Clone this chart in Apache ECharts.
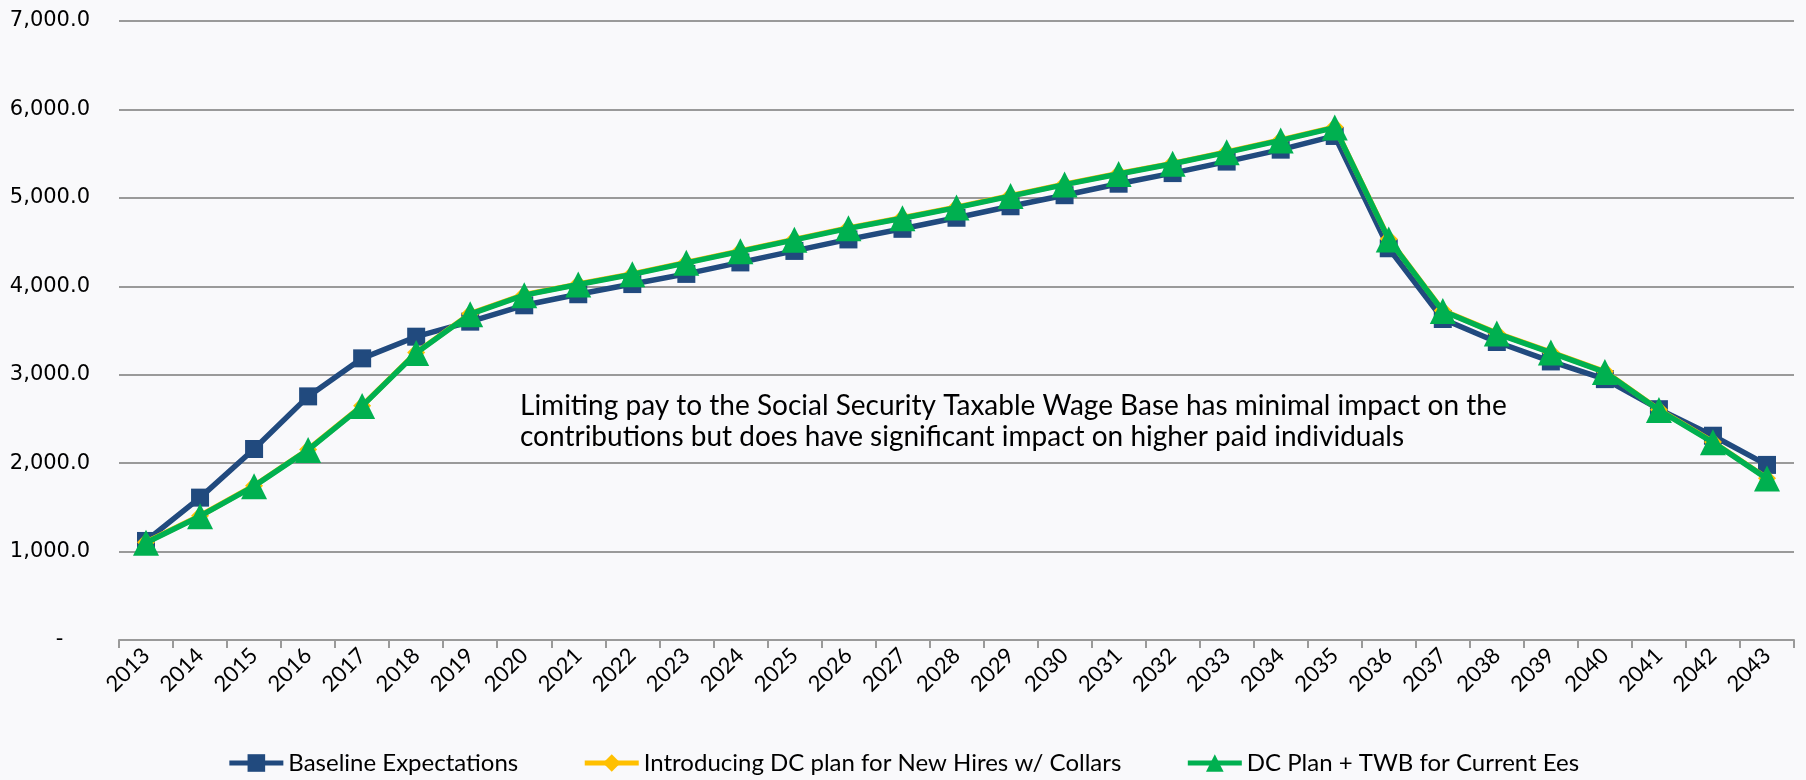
<!DOCTYPE html>
<html>
<head>
<meta charset="utf-8">
<script src="https://cdn.jsdelivr.net/npm/echarts@6/dist/echarts.min.js"></script>
<style>
  html, body { margin: 0; padding: 0; background: #f9f9fb; }
  #chart { width: 1806px; height: 780px; }
</style>
</head>
<body>
<div id="chart"></div>
<script>
const years = [
  "2013", "2014", "2015", "2016", "2017", "2018", "2019", "2020", "2021", "2022",
  "2023", "2024", "2025", "2026", "2027", "2028", "2029", "2030", "2031", "2032",
  "2033", "2034", "2035", "2036", "2037", "2038", "2039", "2040", "2041", "2042", "2043"
];
const seriesNames = [
  "Baseline Expectations",
  "Introducing DC plan for New Hires w/ Collars",
  "DC Plan + TWB for Current Ees"
];
const baseline = [
  1120, 1610, 2160, 2755, 3185, 3430, 3600, 3785, 3910, 4025,
  4140, 4270, 4400, 4530, 4650, 4775, 4905, 5030, 5160, 5280,
  5410, 5545, 5700, 4430, 3630, 3370, 3150, 2950, 2610, 2310, 1980
];
const dcNewHires = [
  1105, 1405, 1745, 2155, 2650, 3250, 3690, 3905, 4025, 4140,
  4270, 4400, 4530, 4660, 4775, 4895, 5025, 5155, 5275, 5390,
  5520, 5655, 5800, 4535, 3725, 3470, 3255, 3035, 2605, 2240, 1830
];
const dcPlusTwb = [
  1100, 1400, 1740, 2150, 2645, 3245, 3685, 3900, 4020, 4135,
  4265, 4395, 4525, 4655, 4770, 4890, 5020, 5150, 5270, 5385,
  5515, 5650, 5795, 4530, 3720, 3465, 3250, 3030, 2600, 2235, 1825
];
const note = "Limiting pay to the Social Security Taxable Wage Base has minimal impact on the\ncontributions but does have significant impact on higher paid individuals";

const colors = ["#214a7e", "#ffc000", "#00b050"];
const symbols = ["rect", "diamond", "triangle"];
const symbolSizes = [18, 18, 26];
const values = [baseline, dcNewHires, dcPlusTwb];

const chart = echarts.init(document.getElementById("chart"));
chart.setOption({
  backgroundColor: "#f9f9fb",
  animation: false,
  grid: { left: 119, right: 12, top: 21, bottom: 140, containLabel: false },
  legend: {
    top: 746,
    left: "center",
    itemWidth: 54,
    itemHeight: 22,
    itemGap: 64,
    lineStyle: { width: 5 },
    textStyle: { fontFamily: "Lato", fontSize: 24, color: "#000" },
    data: seriesNames
  },
  graphic: [
    {
      type: "text",
      left: 520,
      top: 390,
      z: 10,
      style: {
        text: note,
        font: "28px Lato",
        lineHeight: 31,
        fill: "#000"
      }
    }
  ],
  xAxis: {
    type: "category",
    data: years,
    boundaryGap: true,
    axisLine: { lineStyle: { color: "#9a9a9a", width: 2 } },
    axisTick: { show: true, length: 8, lineStyle: { color: "#9a9a9a", width: 2 } },
    axisLabel: {
      rotate: 45,
      margin: 12,
      color: "#000",
      fontFamily: "Lato",
      fontSize: 22,
      interval: 0
    }
  },
  yAxis: {
    type: "value",
    min: 0,
    max: 7000,
    interval: 1000,
    axisLine: { show: false },
    axisTick: { show: false },
    splitLine: { lineStyle: { color: "#9a9a9a", width: 2 } },
    axisLabel: {
      margin: 29,
      color: "#000",
      fontFamily: "DejaVu Sans",
      fontSize: 21,
      formatter: function (v) {
        if (v === 0) return "-    ";
        return v.toLocaleString("en-US", { minimumFractionDigits: 1, maximumFractionDigits: 1 });
      }
    }
  },
  series: seriesNames.map(function (name, i) {
    return {
      name: name,
      type: "line",
      data: values[i],
      symbol: symbols[i],
      symbolSize: symbolSizes[i],
      showAllSymbol: true,
      lineStyle: { color: colors[i], width: 5.5 },
      itemStyle: { color: colors[i] },
      z: 2 + i
    };
  })
});
</script>
</body>
</html>
